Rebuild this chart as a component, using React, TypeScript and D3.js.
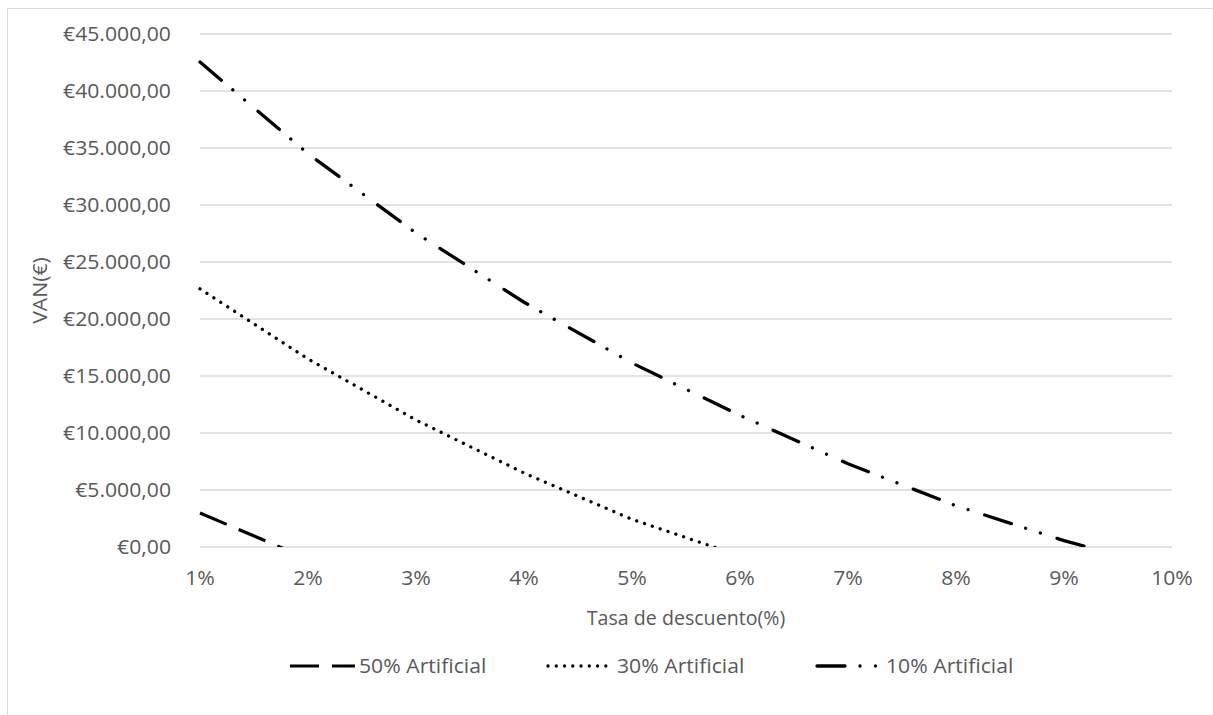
import React from "react";
import * as d3 from "d3";

const rates = [1, 2, 3, 4, 5, 6, 7, 8, 9, 10];
const xTickLabels = ["1%", "2%", "3%", "4%", "5%", "6%", "7%", "8%", "9%", "10%"];
const yTicks = [0, 5000, 10000, 15000, 20000, 25000, 30000, 35000, 40000, 45000];
const van50 = [2980, -1050, -4700, -8000, -11000, -13700, -16200, -18400, -20400, -22200];
const van30 = [22650, 16500, 11140, 6490, 2430, -780, -3900, -6600, -9000, -11100];
const van10 = [42540, 34500, 27540, 21470, 16140, 11540, 7300, 3620, 560, -2000];
const seriesNames = ["50% Artificial", "30% Artificial", "10% Artificial"];

const W = 1213;
const H = 715;
const FONT = "'Open Sans', 'Noto Sans', sans-serif";
const TXT = "#595959";
const FS = 20;
const SX = 1.06;

const styles = [
  { dash: "29 13", cap: "butt", width: 3.2 },
  { dash: "0.01 8.25", cap: "round", width: 3.3 },
  { dash: "28 15 0.01 15.5 0.01 17.5", cap: "round", width: 3.3 },
];

function T({ x, y, anchor = "start", rotate = 0, sx = SX, children }: any) {
  return (
    <text
      transform={`translate(${x},${y}) rotate(${rotate}) scale(${sx},1)`}
      dy="0.35em"
      textAnchor={anchor}
      fontFamily={FONT}
      fontSize={FS}
      fill={TXT}
    >
      {children}
    </text>
  );
}

export default function App() {
  const x = d3.scaleLinear().domain([1, 10]).range([200, 1172]);
  const y = d3.scaleLinear().domain([0, 45000]).range([547, 34]);
  const locale = d3.formatLocale({
    decimal: ",",
    thousands: ".",
    grouping: [3],
    currency: ["€", ""],
  });
  const fmt = locale.format("$,.2f");
  const line = d3
    .line<number>()
    .x((_, i) => x(rates[i]))
    .y((d) => y(d));
  const series = [van50, van30, van10];

  const legendItems = [
    { x0: 290, tx: 359 },
    { x0: 548, tx: 617 },
    { x0: 817, tx: 886 },
  ];

  return (
    <div style={{ position: "absolute", left: 0, top: 0 }}>
      <svg width={W} height={H} style={{ display: "block", background: "#fff" }}>
        <defs>
          <clipPath id="plotClip">
            <rect x={195} y={0} width={985} height={547} />
          </clipPath>
        </defs>
        <rect x={7.5} y={8.5} width={W + 20} height={H + 20} fill="#fff" stroke="#d9d9d9" strokeWidth={1} />
        {yTicks.map((t) => (
          <g key={t}>
            <line x1={200} x2={1172} y1={y(t)} y2={y(t)} stroke="#d9d9d9" strokeWidth={1.3} />
            <T x={171} y={y(t)} anchor="end">
              {fmt(t)}
            </T>
          </g>
        ))}
        {rates.map((r, i) => (
          <T key={r} x={x(r)} y={578} anchor="middle">
            {xTickLabels[i]}
          </T>
        ))}
        <T x={40} y={(y(0) + y(45000)) / 2} anchor="middle" rotate={-90}>
          VAN(€)
        </T>
        <T x={(x(1) + x(10)) / 2} y={618} anchor="middle" sx={0.98}>
          Tasa de descuento(%)
        </T>
        <g clipPath="url(#plotClip)">
          {series.map((s, i) => (
            <path
              key={i}
              d={line(s) || ""}
              fill="none"
              stroke="#000"
              strokeWidth={styles[i].width}
              strokeDasharray={styles[i].dash}
              strokeLinecap={styles[i].cap as any}
            />
          ))}
        </g>
        {legendItems.map((it, i) => (
          <g key={i}>
            <line
              x1={it.x0}
              x2={it.x0 + 65}
              y1={666}
              y2={666}
              stroke="#000"
              strokeWidth={styles[i].width}
              strokeDasharray={styles[i].dash}
              strokeLinecap={styles[i].cap as any}
            />
            <T x={it.tx} y={666}>
              {seriesNames[i]}
            </T>
          </g>
        ))}
      </svg>
    </div>
  );
}
